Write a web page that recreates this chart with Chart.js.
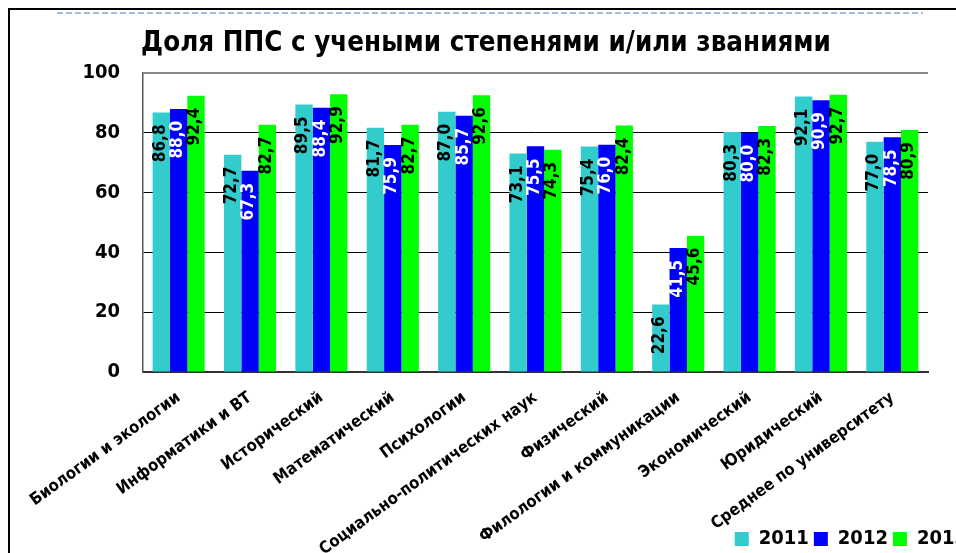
<!DOCTYPE html>
<html>
<head>
<meta charset="utf-8">
<script src="https://cdn.jsdelivr.net/npm/chart.js@4"></script>
<style>
  html, body { margin: 0; padding: 0; background: #fff; overflow: hidden; }
  body { width: 956px; height: 553px; position: relative; }
  #wrap { position: absolute; left: 0; top: 0; width: 972px; height: 559px; }
  .frame-left { position: absolute; left: 8px; top: 8px; width: 2px; height: 545px; background: #000; }
  .frame-top { position: absolute; left: 8px; top: 8px; width: 948px; height: 2px; background: #000; }
  .dash { position: absolute; left: 57px; top: 12px; width: 866px; height: 2px;
          background: repeating-linear-gradient(to right, #a3bcdb 0 6px, transparent 6px 9px); }
</style>
</head>
<body>
<div id="wrap"><canvas id="chart" width="972" height="559"></canvas></div>
<div class="frame-left"></div>
<div class="frame-top"></div>
<div class="dash"></div>
<script>
// faculties shown on the x axis
const categories = [
  'Биологии и экологии', 'Информатики и ВТ', 'Исторический', 'Математический',
  'Психологии', 'Социально-политических наук', 'Физический',
  'Филологии и коммуникации', 'Экономический', 'Юридический',
  'Среднее по университету'
];

const years = ['2011', '2012', '2013'];

const values2011 = [86.8, 72.7, 89.5, 81.7, 87.0, 73.1, 75.4, 22.6, 80.3, 92.1, 77.0];
const values2012 = [88.0, 67.3, 88.4, 75.9, 85.7, 75.5, 76.0, 41.5, 80.0, 90.9, 78.5];
const values2013 = [92.4, 82.7, 92.9, 82.7, 92.6, 74.3, 82.4, 45.6, 82.3, 92.7, 80.9];

const yTicks = [0, 20, 40, 60, 80, 100];

const FONT = "'DejaVu Sans Condensed', 'Liberation Sans Narrow', 'DejaVu Sans', sans-serif";

// vertical value labels inside the top of each bar
const barLabels = {
  id: 'barLabels',
  afterLayout(chart) {
    // let the long rotated category names run down to the bottom edge
    chart.scales.x.bottom = chart.height;
  },
  afterDatasetsDraw(chart) {
    const ctx = chart.ctx;
    ctx.save();
    ctx.font = 'bold 17px ' + FONT;
    ctx.textAlign = 'right';
    ctx.textBaseline = 'middle';
    chart.data.datasets.forEach((ds, i) => {
      const meta = chart.getDatasetMeta(i);
      ctx.fillStyle = ds.labelColor;
      meta.data.forEach((bar, j) => {
        const txt = ds.data[j].toFixed(1).replace('.', ',');
        ctx.save();
        ctx.translate(bar.x - 1, bar.y);
        ctx.rotate(-Math.PI / 2);
        ctx.fillText(txt, -12, 0);
        ctx.restore();
      });
    });
    ctx.restore();
  }
};

const ctx = document.getElementById('chart').getContext('2d');

new Chart(ctx, {
  type: 'bar',
  data: {
    labels: categories,
    datasets: [
      { label: years[0], data: values2011, backgroundColor: '#33CCCC', labelColor: '#000' },
      { label: years[1], data: values2012, backgroundColor: '#0000FF', labelColor: '#fff' },
      { label: years[2], data: values2013, backgroundColor: '#00FF00', labelColor: '#000' }
    ]
  },
  options: {
    responsive: false,
    animation: false,
    datasets: {
      bar: { barPercentage: 1.0, categoryPercentage: 0.73 }
    },
    layout: { padding: 0 },
    plugins: {
      title: {
        display: true,
        text: 'Доля ППС с учеными степенями и/или званиями',
        color: '#000',
        font: { family: FONT, size: 27.5, weight: 'bold', lineHeight: 1.2 },
        padding: { top: 27, bottom: 13 }
      },
      legend: {
        position: 'bottom',
        align: 'end',
        labels: {
          color: '#000',
          boxWidth: 14,
          boxHeight: 14,
          padding: 5,
          font: { family: FONT, size: 20, weight: 'bold' }
        }
      },
      tooltip: { enabled: false }
    },
    scales: {
      x: {
        grid: { display: false, drawTicks: false },
        border: { color: '#333', width: 2 },
        ticks: {
          autoSkip: false,
          minRotation: 36,
          maxRotation: 36,
          padding: 16,
          color: '#000',
          font: { family: FONT, size: 16.5, weight: 'bold' }
        },
        afterFit(scale) {
          scale.height = 152;
          scale.paddingLeft = 0;
          scale.paddingRight = 0;
        }
      },
      y: {
        min: 0,
        max: 100,
        afterBuildTicks(scale) {
          scale.ticks = yTicks.map(v => ({ value: v }));
        },
        grid: {
          drawTicks: false,
          color: c => (c.tick && c.tick.value === 100 ? '#888' : '#000'),
          lineWidth: c => (c.tick && c.tick.value === 100 ? 2 : 1)
        },
        border: { color: '#555', width: 1.5 },
        ticks: {
          padding: 23,
          color: '#000',
          font: { family: FONT, size: 20, weight: 'bold' }
        },
        afterFit(scale) {
          scale.width = 143;
        }
      },
      y2: {
        position: 'right',
        grid: { display: false, drawTicks: false },
        border: { display: false },
        ticks: { display: false },
        afterFit(scale) {
          scale.width = 44;
        }
      }
    }
  },
  plugins: [barLabels]
});
</script>
</body>
</html>
